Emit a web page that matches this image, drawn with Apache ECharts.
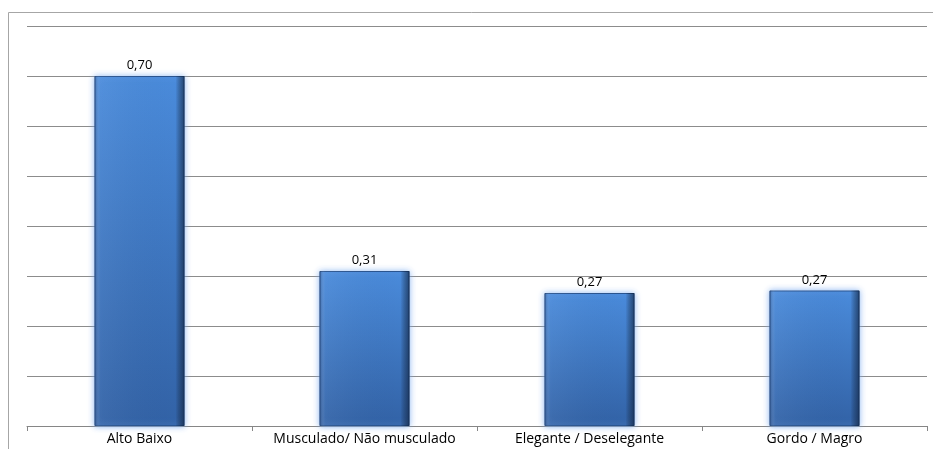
<!DOCTYPE html>
<html><head><meta charset="utf-8">
<script src="https://cdn.jsdelivr.net/npm/echarts@6/dist/echarts.min.js"></script>
<style>html,body{margin:0;padding:0;background:#fff}#c{width:933px;height:449px}</style>
</head><body><div id="c"></div>
<script>
const categories = ['Alto Baixo', 'Musculado/ Não musculado', 'Elegante / Deselegante', 'Gordo / Magro'];
const values = [0.70, 0.31, 0.266, 0.271];

const chart = echarts.init(document.getElementById('c'));
chart.setOption({
  animation: false,
  graphic: [{
    type: 'rect', silent: true, z: -10,
    shape: {x: 8.5, y: 12.5, width: 1000, height: 1000},
    style: {fill: 'none', stroke: '#a6a6a6', lineWidth: 1}
  }],
  grid: {left: 27, right: 6, top: 26, bottom: 23, containLabel: false},
  xAxis: {
    type: 'category', data: categories,
    axisLine: {lineStyle: {color: '#868686', width: 1}},
    axisTick: {show: true, length: 5, lineStyle: {color: '#868686'}},
    axisLabel: {color: '#000', fontFamily: 'Open Sans', fontSize: 14, margin: 6,
                interval: 0, hideOverlap: false}
  },
  yAxis: {
    type: 'value', min: 0, max: 0.8, interval: 0.1,
    axisLabel: {show: false}, axisLine: {show: false}, axisTick: {show: false},
    splitLine: {lineStyle: {color: '#8c8c8c', width: 1}}
  },
  series: [{
    type: 'bar', data: values, barWidth: 90,
    itemStyle: {
      color: new echarts.graphic.LinearGradient(0, 0, 0, 1, [
        {offset: 0, color: '#4a8bdb'},
        {offset: 1, color: '#3262a6'}
      ]),
      borderColor: '#2a5590', borderWidth: 1,
      shadowColor: 'rgba(120,170,240,0.9)', shadowBlur: 6
    },
    label: {
      show: true, position: 'top', distance: 4, color: '#000',
      fontFamily: 'Open Sans', fontSize: 13,
      formatter: p => p.value.toFixed(2).replace('.', ',')
    }
  }, {
    type: 'bar', data: values, barWidth: 90, barGap: '-100%', silent: true,
    itemStyle: {
      color: new echarts.graphic.LinearGradient(0, 0, 1, 0, [
        {offset: 0, color: 'rgba(10,30,70,0.35)'},
        {offset: 0.06, color: 'rgba(255,255,255,0.05)'},
        {offset: 0.9, color: 'rgba(0,0,0,0)'},
        {offset: 1, color: 'rgba(5,20,45,0.6)'}
      ])
    }
  }]
});
</script></body></html>
